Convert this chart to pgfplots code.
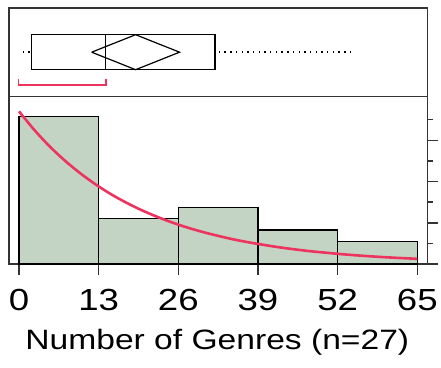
\documentclass[border=0pt]{standalone}
\usepackage{pgfplots}
\pgfplotsset{compat=1.18}
\usepackage{fontspec}
\setmainfont{Liberation Sans}

\definecolor{framegray}{HTML}{333333}
\definecolor{barfill}{HTML}{C4D4C4}
\definecolor{fitred}{HTML}{EC345E}

% histogram counts per bin of width 13 (n = 27)
\pgfplotstableread{
x   count
0   13
13  4
26  5
39  3
52  2
65  0
}\histdata

% fitted exponential density, scaled to counts
\pgfplotstableread{
x     y
0     13.46
2.5   11.82
5     10.37
7.5   9.11
10    8.00
12.5  7.02
15    6.16
17.5  5.41
20    4.75
22.5  4.17
25    3.66
27.5  3.21
30    2.82
32.5  2.48
35    2.17
37.5  1.91
40    1.68
42.5  1.47
45    1.29
47.5  1.13
50    1.00
52.5  0.874
55    0.767
57.5  0.673
60    0.591
62.5  0.519
65    0.456
}\fitdata

\begin{document}
\begin{tikzpicture}
\useasboundingbox (0,0) rectangle (441pt,367pt);

% outlier box plot panel
\begin{axis}[
  at={(9.3pt,270.3pt)}, anchor=south west,
  scale only axis, width=418pt, height=88.7pt,
  xmin=-1.58, xmax=66.63, ymin=0, ymax=88.7,
  axis line style={framegray, line width=1.6pt},
  ticks=none,
  clip=false,
]
  % box from Q1 to Q3
  \addplot[black, line width=1.3pt] coordinates {(2,27) (32,27) (32,62) (2,62) (2,27)};
  % median
  \addplot[black, line width=1.3pt] coordinates {(14.1,27) (14.1,62)};
  % means diamond
  \addplot[black, line width=1.2pt] coordinates {(11.86,44.5) (19.03,62) (26.2,44.5) (19.03,27) (11.86,44.5)};
  % whiskers
  \addplot[black, line width=1.4pt, dash pattern=on 1.4pt off 4.3pt] coordinates {(0.6,44.5) (2,44.5)};
  \addplot[black, line width=1.4pt, dash pattern=on 1.4pt off 4.3pt] coordinates {(32.6,44.5) (54,44.5)};
  % shortest half bracket
  \addplot[fitred, line width=1.3pt] coordinates {(-0.1,17.4) (-0.1,11.7) (14.2,11.7) (14.2,17.4)};
\end{axis}

% histogram panel
\begin{axis}[
  at={(9.3pt,103pt)}, anchor=south west,
  scale only axis, width=418pt, height=167.3pt,
  xmin=-1.58, xmax=66.63, ymin=0, ymax=14.75,
  axis line style={framegray, line width=1.6pt},
  tick style={framegray, line width=1.5pt},
  tick align=outside,
  xtick={0,13,26,39,52,65},
  xtick pos=bottom,
  major tick length=11pt,
  minor tick length=5.5pt,
  ytick pos=right,
  ytick={0,3.634,7.268,10.902},
  minor ytick={1.817,5.451,9.085,12.719},
  yticklabels={},
  /pgf/number format/assume math mode=true,
  xticklabel={\scalebox{1.2}[1]{\pgfmathprintnumber{\tick}}},
  xticklabel style={font=\fontsize{30.5}{30.5}\selectfont, inner sep=0pt, yshift=-14pt},
  xlabel={\scalebox{1.2}[1]{Number of Genres (n=27)}},
  xlabel style={font=\fontsize{28}{28}\selectfont, inner sep=0pt, xshift=-1pt, yshift=-18pt},
]
  \addplot[ybar interval, fill=barfill, draw=black, line width=1.2pt] table[x=x, y=count] {\histdata};
  \addplot[fitred, line width=2.6pt, smooth] table[x=x, y=y] {\fitdata};
\end{axis}
\end{tikzpicture}
\end{document}
